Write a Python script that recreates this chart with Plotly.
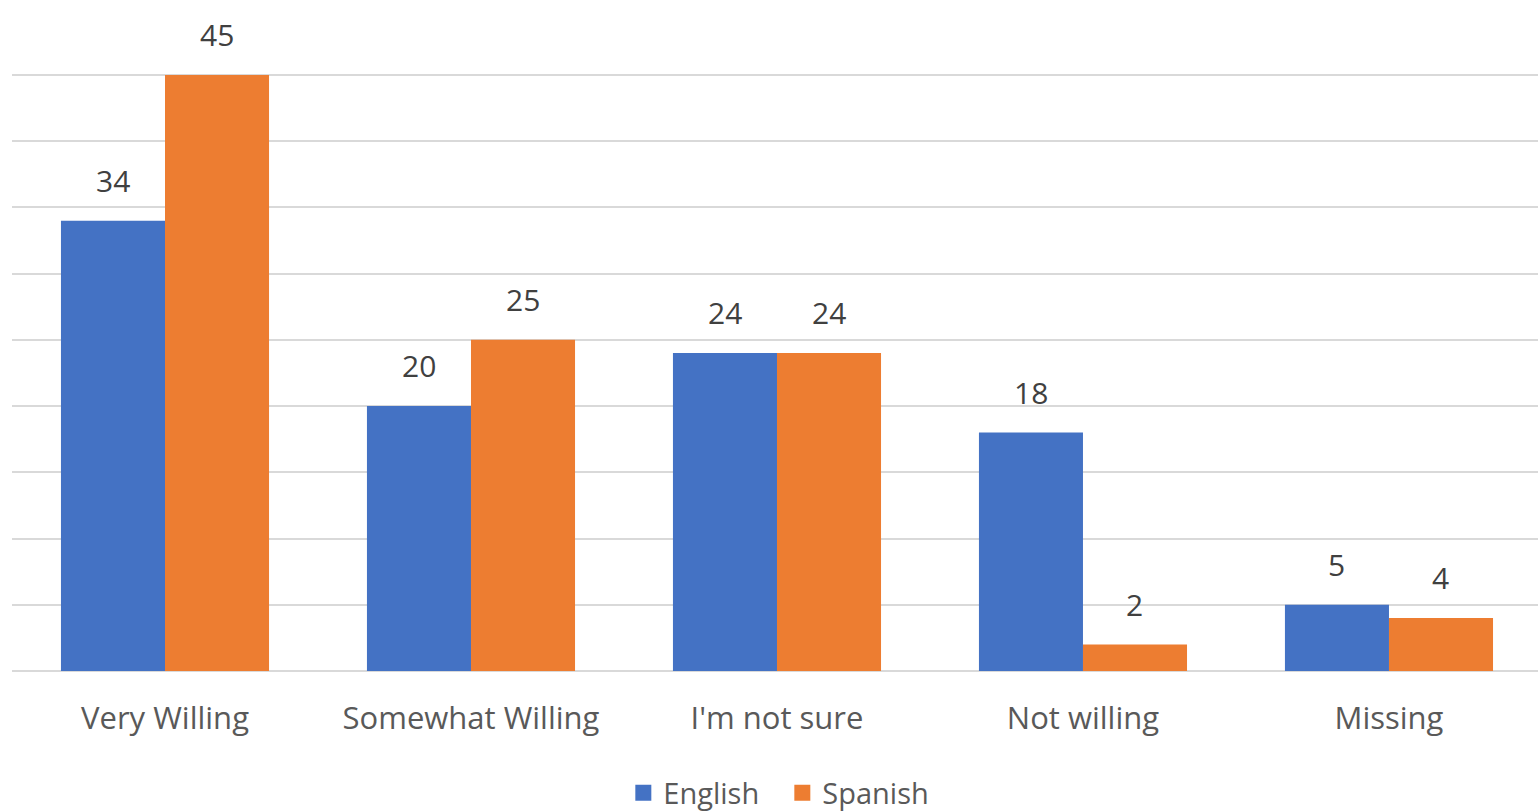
import plotly.graph_objects as go

categories = ["Very Willing", "Somewhat Willing", "I'm not sure", "Not willing", "Missing"]
english = [34, 20, 24, 18, 5]
spanish = [45, 25, 24, 2, 4]

BLUE = "#4472C4"
ORANGE = "#ED7D31"
FONT = "Open Sans"

fig = go.Figure()
for name, vals, col in (("English", english, BLUE), ("Spanish", spanish, ORANGE)):
    fig.add_trace(go.Bar(name=name, x=categories, y=vals, marker_color=col,
                         marker_line_width=0, legendgroup=name, showlegend=False))
for name, col in (("English", BLUE), ("Spanish", ORANGE)):
    # legend-only entries with larger square swatches
    fig.add_trace(go.Scatter(name=name, x=[categories[0]], y=[None], mode="markers",
                             marker=dict(symbol="square", size=16, color=col),
                             legendgroup=name, showlegend=True, hoverinfo="skip"))

annotations = []
for vals, shift in ((english, -52), (spanish, 52)):
    for c, v in zip(categories, vals):
        annotations.append(dict(x=c, y=v, text=str(v), showarrow=False, xshift=shift,
                                yanchor="bottom", yshift=18,
                                font=dict(family=FONT, size=30, color="#404040")))

fig.update_layout(
    width=1538, height=812,
    barmode="group", bargap=0.32, bargroupgap=0,
    plot_bgcolor="white", paper_bgcolor="white",
    margin=dict(l=12, r=0, t=71, b=141, autoexpand=False),
    font=dict(family=FONT, size=30, color="#595959"),
    annotations=annotations,
    showlegend=True,
    legend=dict(orientation="h", x=0.5048, xanchor="center", y=-0.203, yanchor="middle",
                font=dict(family=FONT, size=29, color="#595959"), entrywidth=114,
                traceorder="normal", itemclick=False, itemdoubleclick=False),
    xaxis=dict(range=[-0.5, 4.487], showgrid=False, showline=False, ticks="",
               ticklabelstandoff=26,
               tickfont=dict(family=FONT, size=31, color="#595959")),
    yaxis=dict(range=[0, 45.3], dtick=5, showgrid=True, gridcolor="#d9d9d9", gridwidth=2,
               showticklabels=False, zeroline=True, zerolinecolor="#d9d9d9", zerolinewidth=2,
               showline=False),
)

fig.write_html("out.html", config={"displayModeBar": False},
               post_script="document.body.style.margin='0';")
